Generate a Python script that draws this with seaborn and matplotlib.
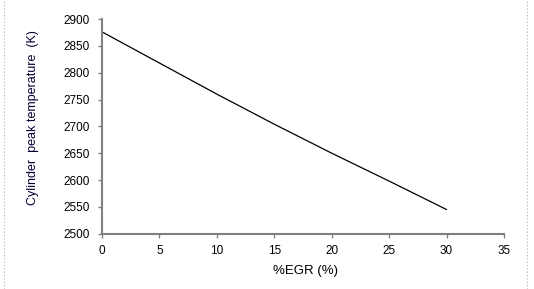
import matplotlib
matplotlib.use("Agg")
import matplotlib.pyplot as plt
import seaborn as sns
import pandas as pd
from matplotlib.lines import Line2D

egr = [0, 5, 10, 15, 20, 25, 30]
peak_temp = [2876, 2818, 2760, 2704, 2650, 2598, 2545]
x_ticks = [0, 5, 10, 15, 20, 25, 30, 35]
y_ticks = [2500, 2550, 2600, 2650, 2700, 2750, 2800, 2850, 2900]

sns.set_theme(style="white")
plt.rcParams['font.family'] = ['Liberation Sans', 'DejaVu Sans']

df = pd.DataFrame({"egr": egr, "temp": peak_temp})

fig = plt.figure(figsize=(5.34, 2.89), dpi=100)
ax = fig.add_axes([102/534, (289-233.7)/289, (504-102)/534, (233.7-19)/289])
sns.lineplot(data=df, x="egr", y="temp", ax=ax, color="black", linewidth=0.9)

ax.set_xlim(0, 35)
ax.set_ylim(2500, 2900)
ax.set_xticks(x_ticks)
ax.set_yticks(y_ticks)
ax.tick_params(axis='both', bottom=True, left=True, labelsize=8.5, labelcolor='black',
               length=3, width=1, direction='out', color='#808080')
ax.tick_params(axis='y', pad=6)
ax.tick_params(axis='x', pad=5)
for s in ['top', 'right']:
    ax.spines[s].set_visible(False)
for s in ['left', 'bottom']:
    ax.spines[s].set_color('#808080')
    ax.spines[s].set_linewidth(1.5)
ax.set_xlabel("%EGR (%)", fontsize=9.5, color='black', va='center')
ax.set_ylabel("Cylinder  peak temperature  (K)", fontsize=9, color='#000033', va='center')
ax.xaxis.set_label_coords(0.506, -0.174)
ax.yaxis.set_label_coords(-(102 - 33) / 402, 0.543)

fig.add_artist(Line2D([4/534, 4/534], [0, 1], transform=fig.transFigure, color='#b0b0b0', linestyle=(0, (1, 2)), linewidth=0.8))
fig.add_artist(Line2D([527/534, 527/534], [0, 1], transform=fig.transFigure, color='#b0b0b0', linestyle=(0, (1, 2)), linewidth=0.8))

fig.savefig("out.png", dpi=100, facecolor='white')
